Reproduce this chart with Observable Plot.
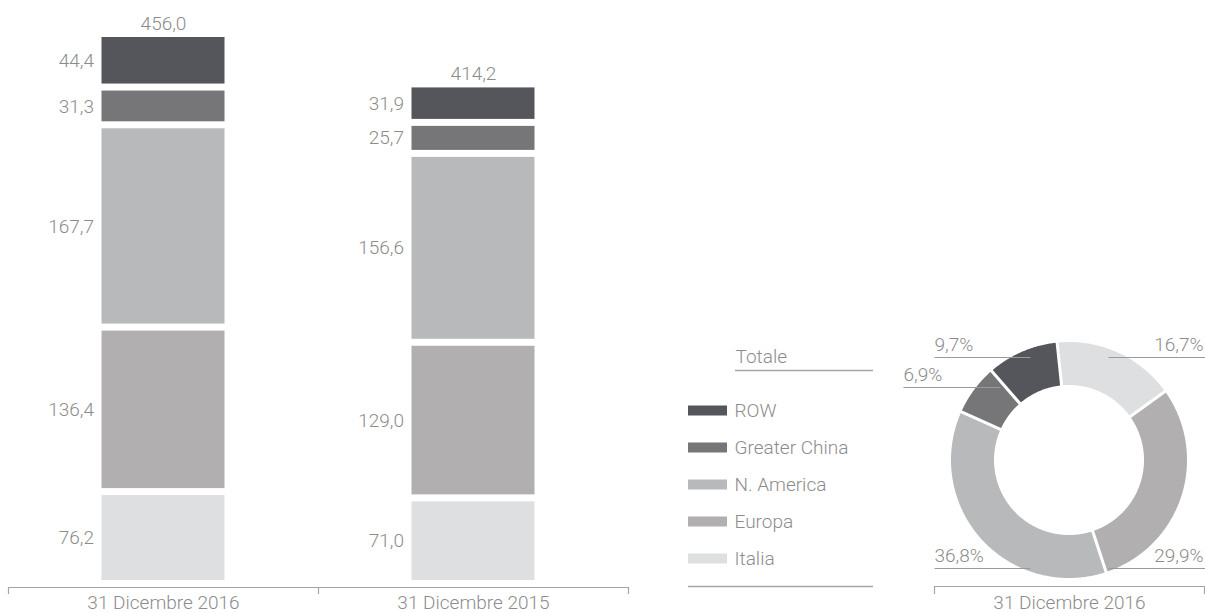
<!DOCTYPE html>
<html>
<head>
<meta charset="utf-8">
<script src="https://cdn.jsdelivr.net/npm/d3@7"></script>
<script src="https://cdn.jsdelivr.net/npm/@observablehq/plot@0.6"></script>
<style>
  html, body { margin: 0; padding: 0; background: #fff; }
  #chart { position: relative; width: 1205px; height: 613px; overflow: hidden; }
  #chart > svg { position: absolute; max-width: none; }
</style>
</head>
<body>
<div id="chart"></div>
<script>
// ---------- data ----------
const periods = ["31 Dicembre 2016", "31 Dicembre 2015"];
const regions = ["Italia", "Europa", "N. America", "Greater China", "ROW"]; // stack order, bottom → top
const values2016 = [76.2, 136.4, 167.7, 31.3, 44.4];
const values2015 = [71.0, 129.0, 156.6, 25.7, 31.9];
const totals = [456.0, 414.2];
const legendOrder = ["ROW", "Greater China", "N. America", "Europa", "Italia"];
const legendTitle = "Totale";
const regionColors = ["#dedfe0", "#b1afb0", "#b8b9bb", "#767678", "#55565b"];

// ---------- helpers ----------
const seriesByPeriod = [values2016, values2015];
const rows = periods.flatMap((p, i) =>
  regions.map((r, j) => ({period: p, region: r, value: seriesByPeriod[i][j]})));
const fmt = v => v.toFixed(1).replace(".", ",");
const TEXT = "#8c8c8c";
const LINE = "#a6a6a6";
const style = {
  fontFamily: "Roboto, 'Liberation Sans', sans-serif",
  fontWeight: 300,
  fontSize: "19px",
  color: TEXT,
  background: "transparent",
  overflow: "visible",
  maxWidth: "none"
};
const color = {domain: regions, range: regionColors};
const chart = document.getElementById("chart");
function place(svg, left, top) {
  svg.style.left = left + "px";
  svg.style.top = top + "px";
  chart.appendChild(svg);
}

// ---------- stacked bars ----------
const X0 = 8, X1 = 628;
const halfStep = (X1 - X0) / periods.length / 2;
const bars = Plot.plot({
  width: 640, height: 613,
  marginLeft: X0, marginRight: 640 - X1, marginTop: 30, marginBottom: 33,
  style,
  x: {type: "band", domain: periods, range: [X0, X1], padding: 0, axis: null},
  y: {domain: [0, d3.max(totals)], axis: null},
  color,
  marks: [
    Plot.barY(rows, Plot.stackY({x: "period", y: "value", fill: "region",
      insetLeft: 93.5, insetRight: 93.5, insetTop: 7})),
    Plot.text(rows, Plot.stackY({x: "period", y: "value", text: d => fmt(d.value),
      textAnchor: "end", dx: -69.5, dy: 3.5, fill: TEXT})),
    Plot.text(periods, {x: d => d, y: (d, i) => totals[i], text: (d, i) => fmt(totals[i]),
      dy: -7, fill: TEXT}),
    Plot.ruleY([0], {dy: 7, stroke: LINE, strokeWidth: 1.2}),
    Plot.ruleX(periods, {x: d => d, y1: 0, y2: 0, dx: -halfStep, dy: 7, insetBottom: -7, stroke: LINE, strokeWidth: 1.2}),
    Plot.ruleX(periods.slice(-1), {x: d => d, y1: 0, y2: 0, dx: halfStep, dy: 7, insetBottom: -7, stroke: LINE, strokeWidth: 1.2}),
    Plot.text(periods, {x: d => d, y: 0, dy: 22, fill: TEXT})
  ]
});
place(bars, 0, 0);

// ---------- legend ----------
const legend = Plot.plot({
  width: 240, height: 283, margin: 0,
  style,
  x: {type: "linear", domain: [0, 240], range: [0, 240], axis: null},
  y: {type: "point", domain: legendOrder, range: [79, 229], padding: 0, axis: null},
  color,
  marks: [
    Plot.ruleY(legendOrder, {y: d => d, x1: 28, x2: 67, stroke: d => d, strokeWidth: 10}),
    Plot.text(legendOrder, {y: d => d, x: 67, dx: 7, textAnchor: "start", text: d => d, fill: TEXT}),
    Plot.text([legendTitle], {y: () => legendOrder[0], x: 75, dy: -54, textAnchor: "start", text: d => d, fill: TEXT}),
    Plot.ruleY([legendOrder[0]], {y: d => d, dy: -40, x1: 75, x2: 213, stroke: LINE, strokeWidth: 1.5}),
    Plot.ruleY([legendOrder[legendOrder.length - 1]], {y: d => d, dy: 28, x1: 28, x2: 213, stroke: LINE, strokeWidth: 1.5})
  ]
});
place(legend, 660, 330);

// ---------- donut (31 Dicembre 2016) ----------
const R = 118, CX = 179, CY = 140;      // outer radius and centre, px inside the donut svg
const inner = 75 / R;
const startAngle = -6 * Math.PI / 180;
const arcs = d3.pie().sort(null).value(d => d.value)
  .startAngle(startAngle).endAngle(startAngle + 2 * Math.PI)(
    regions.map((r, j) => ({region: r, value: values2016[j]})));
const arcPts = arcs.flatMap(a => {
  const n = Math.max(2, Math.ceil((a.endAngle - a.startAngle) / 0.01));
  return d3.range(n + 1).map(k => {
    const t = a.startAngle + (a.endAngle - a.startAngle) * k / n;
    return {region: a.data.region, xo: Math.sin(t), yo: Math.cos(t),
            xi: inner * Math.sin(t), yi: inner * Math.cos(t)};
  });
});
const share = r => values2016[regions.indexOf(r)] / totals[0] * 100;
// label layout in px relative to the centre (y up)
const labelLayout = [
  {region: "Italia",        side: "right", y: 103,  from: 39,   to: 136},
  {region: "Europa",        side: "right", y: -108, from: 39,   to: 136},
  {region: "N. America",    side: "left",  y: -108, from: -135, to: -39},
  {region: "Greater China", side: "left",  y: 73,   from: -166, to: -69},
  {region: "ROW",           side: "left",  y: 103,  from: -135, to: -39}
];
const U = px => px / R;
const donut = Plot.plot({
  width: 315, height: 293, margin: 0,
  style,
  x: {domain: [-1, 1], range: [CX - R, CX + R], axis: null},
  y: {domain: [-1, 1], range: [CY + R, CY - R], axis: null},
  color,
  marks: [
    Plot.area(arcPts, {x1: "xo", y1: "yo", x2: "xi", y2: "yi", z: "region", fill: "region"}),
    Plot.link(arcs, {
      x1: d => 0.6 * Math.sin(d.startAngle), y1: d => 0.6 * Math.cos(d.startAngle),
      x2: d => 1.03 * Math.sin(d.startAngle), y2: d => 1.03 * Math.cos(d.startAngle),
      stroke: "white", strokeWidth: 3}),
    Plot.link(labelLayout, {x1: d => U(d.from), x2: d => U(d.to), y1: d => U(d.y), y2: d => U(d.y),
      stroke: "#9a9a9a", strokeWidth: 1}),
    Plot.text(labelLayout.filter(d => d.side === "left"), {x: d => U(d.from), y: d => U(d.y),
      text: d => fmt(share(d.region)) + "%", textAnchor: "start", dy: -13, fill: TEXT}),
    Plot.text(labelLayout.filter(d => d.side === "right"), {x: d => U(d.to - 2), y: d => U(d.y),
      text: d => fmt(share(d.region)) + "%", textAnchor: "end", dy: -13, fill: TEXT}),
    Plot.ruleY([U(-126)], {x1: U(-135), x2: U(135), stroke: LINE, strokeWidth: 1.2}),
    Plot.ruleX([U(-135), U(135)], {y1: U(-126), y2: U(-134), stroke: LINE, strokeWidth: 1.2}),
    Plot.text([periods[0]], {x: 0, y: U(-142), text: d => d, fill: TEXT})
  ]
});
place(donut, 890, 320);
</script>
</body>
</html>
